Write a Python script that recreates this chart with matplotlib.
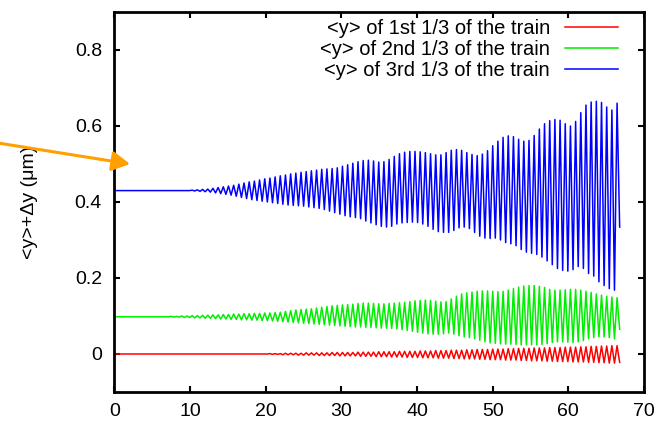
import numpy as np
import matplotlib
matplotlib.use("Agg")
import matplotlib.pyplot as plt

plt.rcParams['font.family'] = ['Liberation Sans', 'DejaVu Sans']

# one value per oscillation cycle: maxima ("hi") and minima ("lo")
period = 0.685

blue_hi = [0.430] * 15 + [
    0.431, 0.432, 0.433, 0.434, 0.436, 0.438, 0.440, 0.442, 0.444,
    0.447, 0.450, 0.453, 0.455, 0.458, 0.461, 0.463, 0.466, 0.469,
    0.471, 0.474, 0.476, 0.478, 0.480, 0.482, 0.484, 0.486, 0.487,
    0.488, 0.490, 0.494, 0.498, 0.502, 0.506, 0.509, 0.510, 0.508,
    0.505, 0.506, 0.512, 0.520, 0.527, 0.531, 0.533, 0.533, 0.532,
    0.530, 0.527, 0.524, 0.524, 0.530, 0.536, 0.538, 0.536, 0.530,
    0.525, 0.522, 0.526, 0.535, 0.548, 0.560, 0.570, 0.574, 0.572,
    0.565, 0.560, 0.562, 0.575, 0.592, 0.606, 0.614, 0.617, 0.615,
    0.606, 0.600, 0.612, 0.635, 0.655, 0.663, 0.665, 0.662, 0.650,
    0.642, 0.660]
blue_lo = [0.430] * 15 + [
    0.429, 0.428, 0.427, 0.426, 0.424, 0.422, 0.420, 0.418, 0.415,
    0.412, 0.409, 0.406, 0.404, 0.402, 0.400, 0.398, 0.396, 0.394,
    0.392, 0.391, 0.390, 0.389, 0.387, 0.385, 0.383, 0.380, 0.376,
    0.372, 0.368, 0.364, 0.361, 0.359, 0.356, 0.350, 0.345, 0.340,
    0.336, 0.334, 0.336, 0.342, 0.345, 0.346, 0.347, 0.346, 0.342,
    0.336, 0.328, 0.322, 0.320, 0.320, 0.325, 0.332, 0.334, 0.330,
    0.320, 0.310, 0.305, 0.304, 0.305, 0.300, 0.293, 0.290, 0.285,
    0.275, 0.268, 0.265, 0.262, 0.255, 0.245, 0.235, 0.225, 0.220,
    0.218, 0.222, 0.230, 0.225, 0.212, 0.205, 0.190, 0.180, 0.172,
    0.168, 0.334]

green_hi = [0.098] * 11 + [
    0.099, 0.099, 0.100, 0.100,
    0.101, 0.101, 0.102, 0.102, 0.103, 0.103,
    0.104, 0.104, 0.105, 0.105, 0.106, 0.106,
    0.107, 0.107, 0.108, 0.108, 0.109, 0.110,
    0.112, 0.114, 0.116, 0.117, 0.118, 0.119,
    0.121, 0.123, 0.125, 0.127, 0.128, 0.129,
    0.130, 0.131, 0.133, 0.134, 0.134, 0.133,
    0.132, 0.132, 0.133, 0.134, 0.135, 0.136,
    0.138, 0.140, 0.141, 0.142, 0.141, 0.139,
    0.137, 0.138, 0.145, 0.152, 0.158, 0.161,
    0.163, 0.165, 0.166, 0.166, 0.165, 0.164,
    0.165, 0.168, 0.172, 0.176, 0.179, 0.180,
    0.180, 0.178, 0.175, 0.170, 0.168, 0.168,
    0.169, 0.170, 0.170, 0.168, 0.165, 0.162,
    0.158, 0.155, 0.152, 0.150, 0.148]
green_lo = [0.098] * 11 + [
    0.097, 0.097, 0.096, 0.096,
    0.095, 0.095, 0.094, 0.094, 0.093, 0.092,
    0.092, 0.091, 0.091, 0.090, 0.090, 0.089,
    0.089, 0.088, 0.088, 0.087, 0.086, 0.085,
    0.084, 0.083, 0.082, 0.081, 0.080, 0.079,
    0.078, 0.077, 0.076, 0.075, 0.074, 0.073,
    0.072, 0.071, 0.071, 0.070, 0.070, 0.069,
    0.068, 0.068, 0.067, 0.066, 0.064, 0.062,
    0.060, 0.057, 0.055, 0.053, 0.052, 0.052,
    0.053, 0.055, 0.052, 0.048, 0.045, 0.043,
    0.040, 0.036, 0.032, 0.029, 0.028, 0.027,
    0.026, 0.026, 0.025, 0.024, 0.024, 0.024,
    0.024, 0.025, 0.027, 0.030, 0.032, 0.032,
    0.031, 0.030, 0.032, 0.035, 0.040, 0.043,
    0.045, 0.045, 0.043, 0.040, 0.065]

red_hi = [0.0] * 30 + [
    0.001, 0.001, 0.001, 0.002, 0.002, 0.002, 0.002, 0.003, 0.003, 0.003,
    0.003, 0.003, 0.004, 0.004, 0.004,
    0.004, 0.004, 0.005, 0.005, 0.005, 0.005, 0.006, 0.006, 0.006, 0.006,
    0.007, 0.007, 0.007, 0.007, 0.008,
    0.008, 0.008, 0.009, 0.009, 0.009, 0.010, 0.010, 0.010, 0.011, 0.011,
    0.012, 0.012, 0.012, 0.013, 0.013,
    0.013, 0.014, 0.014, 0.015, 0.015, 0.015, 0.016, 0.016, 0.016, 0.017,
    0.017, 0.017, 0.018, 0.018, 0.018,
    0.019, 0.019, 0.020, 0.020, 0.021, 0.021, 0.022, 0.022]
red_lo = [0.0] * 30 + [
    -0.001, -0.001, -0.002, -0.002, -0.002, -0.003, -0.003, -0.003, -0.003, -0.004,
    -0.004, -0.004, -0.004, -0.005, -0.005,
    -0.005, -0.005, -0.006, -0.006, -0.006, -0.007, -0.007, -0.007, -0.008, -0.008,
    -0.008, -0.009, -0.009, -0.009, -0.010,
    -0.010, -0.010, -0.011, -0.011, -0.011, -0.012, -0.012, -0.013, -0.013, -0.013,
    -0.014, -0.014, -0.015, -0.015, -0.015,
    -0.016, -0.016, -0.016, -0.017, -0.017, -0.018, -0.018, -0.018, -0.019, -0.019,
    -0.020, -0.020, -0.020, -0.021, -0.021,
    -0.021, -0.022, -0.022, -0.023, -0.023, -0.024, -0.024, -0.022]

labels = ['<y> of 1st 1/3 of the train',
          '<y> of 2nd 1/3 of the train',
          '<y> of 3rd 1/3 of the train']
colors = ['#ff0000', '#00ee00', '#0000ff']


def zigzag(hi, lo):
    # samples alternate: max at k*period, min half a period later
    y = np.empty(2 * len(hi))
    y[0::2] = hi
    y[1::2] = lo
    x = np.arange(len(y)) * period / 2
    return x, y


fig = plt.figure(figsize=(6.68, 4.22), dpi=100)
ax = fig.add_axes([0.1714, 0.0711, 0.7926, 0.9005])

for (hi, lo), lab, c in zip([(red_hi, red_lo), (green_hi, green_lo), (blue_hi, blue_lo)],
                            labels, colors):
    x, y = zigzag(hi, lo)
    ax.plot(x, y, color=c, lw=1.1, label=lab)

ax.set_xlim(0, 70)
ax.set_ylim(-0.1, 0.9)
ax.set_xticks(np.arange(0, 71, 10))
ax.set_yticks([0, 0.2, 0.4, 0.6, 0.8])
ax.set_yticklabels(['0', '0.2', '0.4', '0.6', '0.8'])
ax.tick_params(direction='in', top=True, right=True, length=4.5, width=1.5,
               labelsize=14)
ax.tick_params(axis='y', pad=9)
ax.tick_params(axis='x', pad=8.2)
for s in ax.spines.values():
    s.set_linewidth(2)
ax.set_ylabel('<y>+Δy (μm)', fontsize=14)
ax.yaxis.set_label_coords(-0.1445, 0.5)

ax.legend(loc='upper right', bbox_to_anchor=(0.951, 0.982), frameon=False,
          markerfirst=False, fontsize=14.5, handlelength=2.63, handletextpad=0.75,
          labelspacing=0.1, borderaxespad=0, borderpad=0)

# orange pointer coming in from the left edge
ax.annotate('', xy=(130, 258), xycoords='figure pixels',
            xytext=(-2, 279), textcoords='figure pixels',
            arrowprops=dict(arrowstyle='-|>,head_length=0.6,head_width=0.33',
                            color='#ffa000', lw=2.2, mutation_scale=18,
                            shrinkA=0, shrinkB=0),
            annotation_clip=False)

fig.savefig('out.png', dpi=100)
